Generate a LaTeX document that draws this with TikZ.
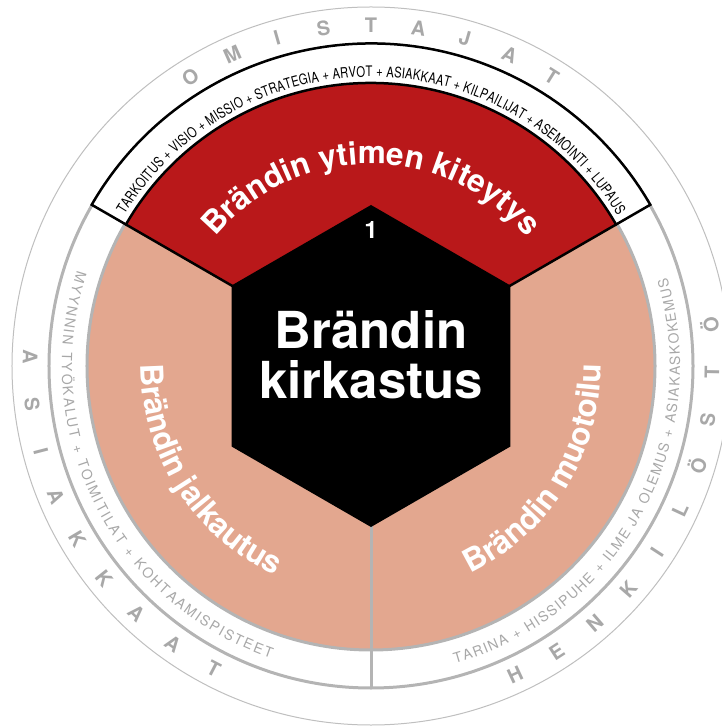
\documentclass[tikz,border=0pt]{standalone}
\usepackage{fontspec}
\setmainfont{TeX Gyre Heros}
\newfontfamily\narrowfont[FakeStretch=0.78]{TeX Gyre Heros}
\usepackage{xcolor}
\usepackage{tikz}
\usetikzlibrary{decorations.text}
\definecolor{brandred}{RGB}{185,24,26}
\definecolor{brandpink}{RGB}{227,167,143}
\definecolor{ringgrey}{RGB}{180,180,180}
\definecolor{lettergrey}{RGB}{168,168,168}
\newcommand{\bandfont}{\fontsize{14}{14}\selectfont\color{lettergrey}}
\newcommand{\frametext}{\narrowfont\fontsize{14.5}{14.5}\selectfont\color{black}}
\newcommand{\sectorfont}{\bfseries\fontsize{31.5}{31.5}\selectfont\color{white}}

\begin{document}
\begin{tikzpicture}[
      x=1pt, y=1pt,
      ringline/.style={draw=ringgrey, line width=3pt},
      frameline/.style={draw=black, line width=2.5pt},
      ringletter/.style={text=lettergrey, font=\bfseries\fontsize{20}{20}\selectfont, inner sep=0pt},
      arctext/.style={decorate, decoration={text along path, text align={fit to path}, text={#1}}},
      labeltext/.style={decorate, decoration={text along path, text align={center}, text={#1}}}
    ]
      \useasboundingbox (-371,-361) rectangle (350,366);
      \draw[draw=ringgrey!85, line width=1pt] (0,0) circle[radius=359];
      \draw[ringline] (0,0) circle[radius=322];
      \draw[ringline, fill=brandpink] (0,0) circle[radius=284];
      \fill[brandred] (0,0) -- (30:287) arc[start angle=30, end angle=150, radius=287] -- cycle;
      \draw[frameline, fill=white] (30:283) arc[start angle=30, end angle=150, radius=283]
        -- (150:322.5) arc[start angle=150, end angle=30, radius=322.5] -- cycle;
      \draw[frameline] (0,0) -- (30:283) (0,0) -- (150:283);
      \draw[ringline] (0,0) -- (270:322);
      \fill[black] (90:161) -- (150:161) -- (210:161) -- (270:161) -- (330:161) -- (30:161) -- cycle;
      \node[font=\bfseries\fontsize{51}{50}\selectfont, text=white, align=center, inner sep=0pt] (title) at (0,11) {Brändin\\kirkastus};
      \node[font=\bfseries\fontsize{24}{24}\selectfont, text=white, inner sep=0pt] (step1) at (0,136) {1};
      \foreach \ch [count=\i] in {O,M,I,S,T,A,J,A,T}
        \node[ringletter, rotate={40-8*\i}] (owners\i) at ({130-8*\i}:341) {\ch};
      \foreach \ch [count=\i] in {A,S,I,A,K,K,A,A,T}
        \node[ringletter, rotate={260.5+8*\i}] (clients\i) at ({170.5+8*\i}:341) {\ch};
      \foreach \ch [count=\i] in {H,E,N,K,I,L,Ö,S,T,Ö}
        \node[ringletter, rotate={377+8*\i}] (staff\i) at ({287+8*\i}:341) {\ch};
      \path[arctext={|\frametext|TARKOITUS + VISIO + MISSIO + STRATEGIA + ARVOT + ASIAKKAAT + KILPAILIJAT + ASEMOINTI + LUPAUS}]
        (148.5:289) arc[start angle=148.5, end angle=31.5, radius=289];
      \path[arctext={|\bandfont|MYYNNIN TYÖKALUT + TOIMITILAT + KOHTAAMISPISTEET}]
        (162:309) arc[start angle=162, end angle=251, radius=309];
      \path[arctext={|\bandfont|TARINA + HISSIPUHE + ILME JA OLEMUS + ASIAKASKOKEMUS}]
        (285.8:309) arc[start angle=285.8, end angle=376.6, radius=309];
      \path[labeltext={|\sectorfont|Brändin ytimen kiteytys}]
        (165:202) arc[start angle=165, end angle=15, radius=202];
      \path[labeltext={|\sectorfont|Brändin jalkautus}]
        (162.5:230) arc[start angle=162.5, end angle=262.5, radius=230];
      \path[labeltext={|\sectorfont|Brändin muotoilu}]
        (278:230) arc[start angle=278, end angle=378, radius=230];
    \end{tikzpicture}
\end{document}
